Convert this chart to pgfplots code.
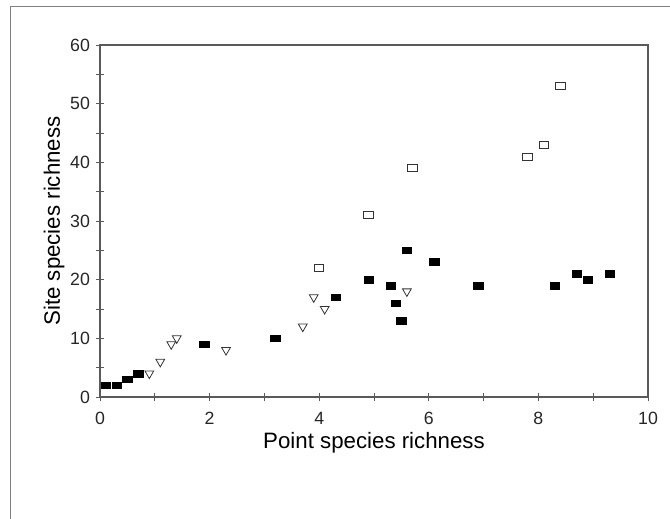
\documentclass[border=0pt]{standalone}
\usepackage{pgfplots}
\pgfplotsset{compat=1.18}
\usepackage{fontspec}
\setmainfont{Liberation Sans}
\definecolor{axgray}{HTML}{5A5A5A}
\definecolor{mkgray}{HTML}{333333}
\begin{document}
\begin{tikzpicture}
\path[use as bounding box] (-75pt,-90.75pt) rectangle (427.5pt,297.75pt);
\draw[color=gray, line width=1.1pt] (-67.1pt,-95pt) -- (-67.1pt,292.9pt) -- (430pt,292.9pt);
\begin{axis}[
  at={(0pt,0pt)}, anchor=south west,
  scale only axis, width=411pt, height=264pt,
  xmin=0, xmax=10, ymin=0, ymax=60,
  xtick={0,2,...,10}, ytick={0,10,...,60},
  minor xtick={1,3,...,9}, minor ytick={5,15,...,55},
  xtick pos=left, ytick pos=left,
  tick align=center,
  major tick length=6pt, minor tick length=6pt,
  axis line style={axgray, line width=0.8pt},
  every tick/.style={axgray, line width=0.6pt},
  every minor tick/.style={axgray, line width=0.6pt},
  /pgf/number format/assume math mode=true,
  tick label style={font=\fontsize{13.3}{15}\selectfont, text=black!85},
  yticklabel style={xshift=-1pt},
  xticklabel style={yshift=-5pt},
  xlabel={Point species richness},
  ylabel={Site species richness},
  label style={font=\fontsize{16.7}{19}\selectfont, text=black},
  xlabel style={at={(axis description cs:0.5,0)}, anchor=north, yshift=-23pt},
  ylabel style={at={([xshift=-34.5pt]axis description cs:0,0.5)}, anchor=center, rotate=0},
  clip=false,
]
% filled squares
\addplot[only marks, mark=square*, mark size=2.5pt, mark options={black, xscale=1.4}]
coordinates {(0.1,2) (0.3,2) (0.5,3) (0.7,4) (1.9,9) (3.2,10) (4.3,17) (4.9,20)
(5.3,19) (5.4,16) (5.5,13) (5.6,25) (6.1,23) (6.9,19) (8.3,19) (8.7,21) (8.9,20) (9.3,21)};
% open down triangles
\addplot[only marks, mark=triangle, mark size=3.8pt, mark options={mkgray, line width=0.6pt, rotate=180, fill=white}]
coordinates {(0.9,4) (1.1,6) (1.3,9) (1.4,10) (2.3,8) (3.7,12) (3.9,17) (4.1,15) (5.6,18)};
% open squares
\addplot[only marks, mark=square, mark size=2.6pt, mark options={mkgray, line width=0.6pt, xscale=1.35, fill=white}]
coordinates {(4.0,22) (4.9,31) (5.7,39) (7.8,41) (8.1,43) (8.4,53)};
\end{axis}
\end{tikzpicture}
\end{document}
